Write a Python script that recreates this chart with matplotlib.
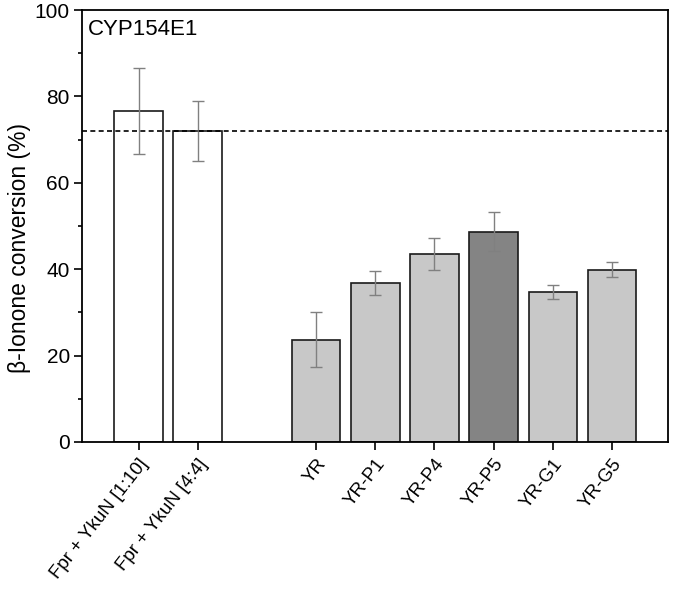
import matplotlib
matplotlib.use("Agg")
import matplotlib.pyplot as plt
from matplotlib.ticker import MultipleLocator

plt.rcParams['font.family'] = ['Liberation Sans', 'DejaVu Sans']

labels = ["Fpr + YkuN [1:10]", "Fpr + YkuN [4:4]", "YR", "YR-P1", "YR-P4", "YR-P5", "YR-G1", "YR-G5"]
positions = [0, 1, 3, 4, 5, 6, 7, 8]
values = [76.6, 72.0, 23.7, 36.8, 43.4, 48.7, 34.7, 39.9]
errors = [10.0, 7.0, 6.3, 2.8, 3.7, 4.5, 1.6, 1.7]
colors = ["white", "white", "#c8c8c8", "#c8c8c8", "#c8c8c8", "#848484", "#c8c8c8", "#c8c8c8"]
reference_level = 72.0

fig = plt.figure(figsize=(6.75, 5.90), dpi=100)
ax = fig.add_axes([0.122, 0.251, 0.868, 0.732])

ax.bar(positions, values, width=0.82, color=colors, edgecolor="#1a1a1a", linewidth=1.2, zorder=2)
ax.errorbar(positions, values, yerr=errors, fmt="none", ecolor="#808080", elinewidth=1.0,
            capsize=4, capthick=1.0, zorder=3)
ax.axhline(reference_level, color="black", linestyle=(0, (3, 2)), linewidth=1.2, zorder=4)

ax.set_xlim(-0.95, 8.95)
ax.set_ylim(0, 100)
ax.yaxis.set_major_locator(MultipleLocator(20))
ax.yaxis.set_minor_locator(MultipleLocator(10))
ax.set_xticks(positions)
ax.set_xticklabels(labels, rotation=52, ha="right", rotation_mode="anchor", fontsize=13.5)
ax.tick_params(axis="y", which="major", direction="out", length=6, width=1.2, labelsize=15, pad=3)
ax.tick_params(axis="y", which="minor", direction="out", length=3, width=1.2)
ax.tick_params(axis="x", direction="out", length=6, width=1.2, pad=4)
for s in ax.spines.values():
    s.set_linewidth(1.3)

ax.set_ylabel("β-Ionone conversion (%)", fontsize=16.5)
ax.yaxis.set_label_coords(-0.087, 0.45)
ax.text(0.01, 0.98, "CYP154E1", transform=ax.transAxes, fontsize=16, va="top", ha="left")

fig.savefig("out.png", dpi=100)
